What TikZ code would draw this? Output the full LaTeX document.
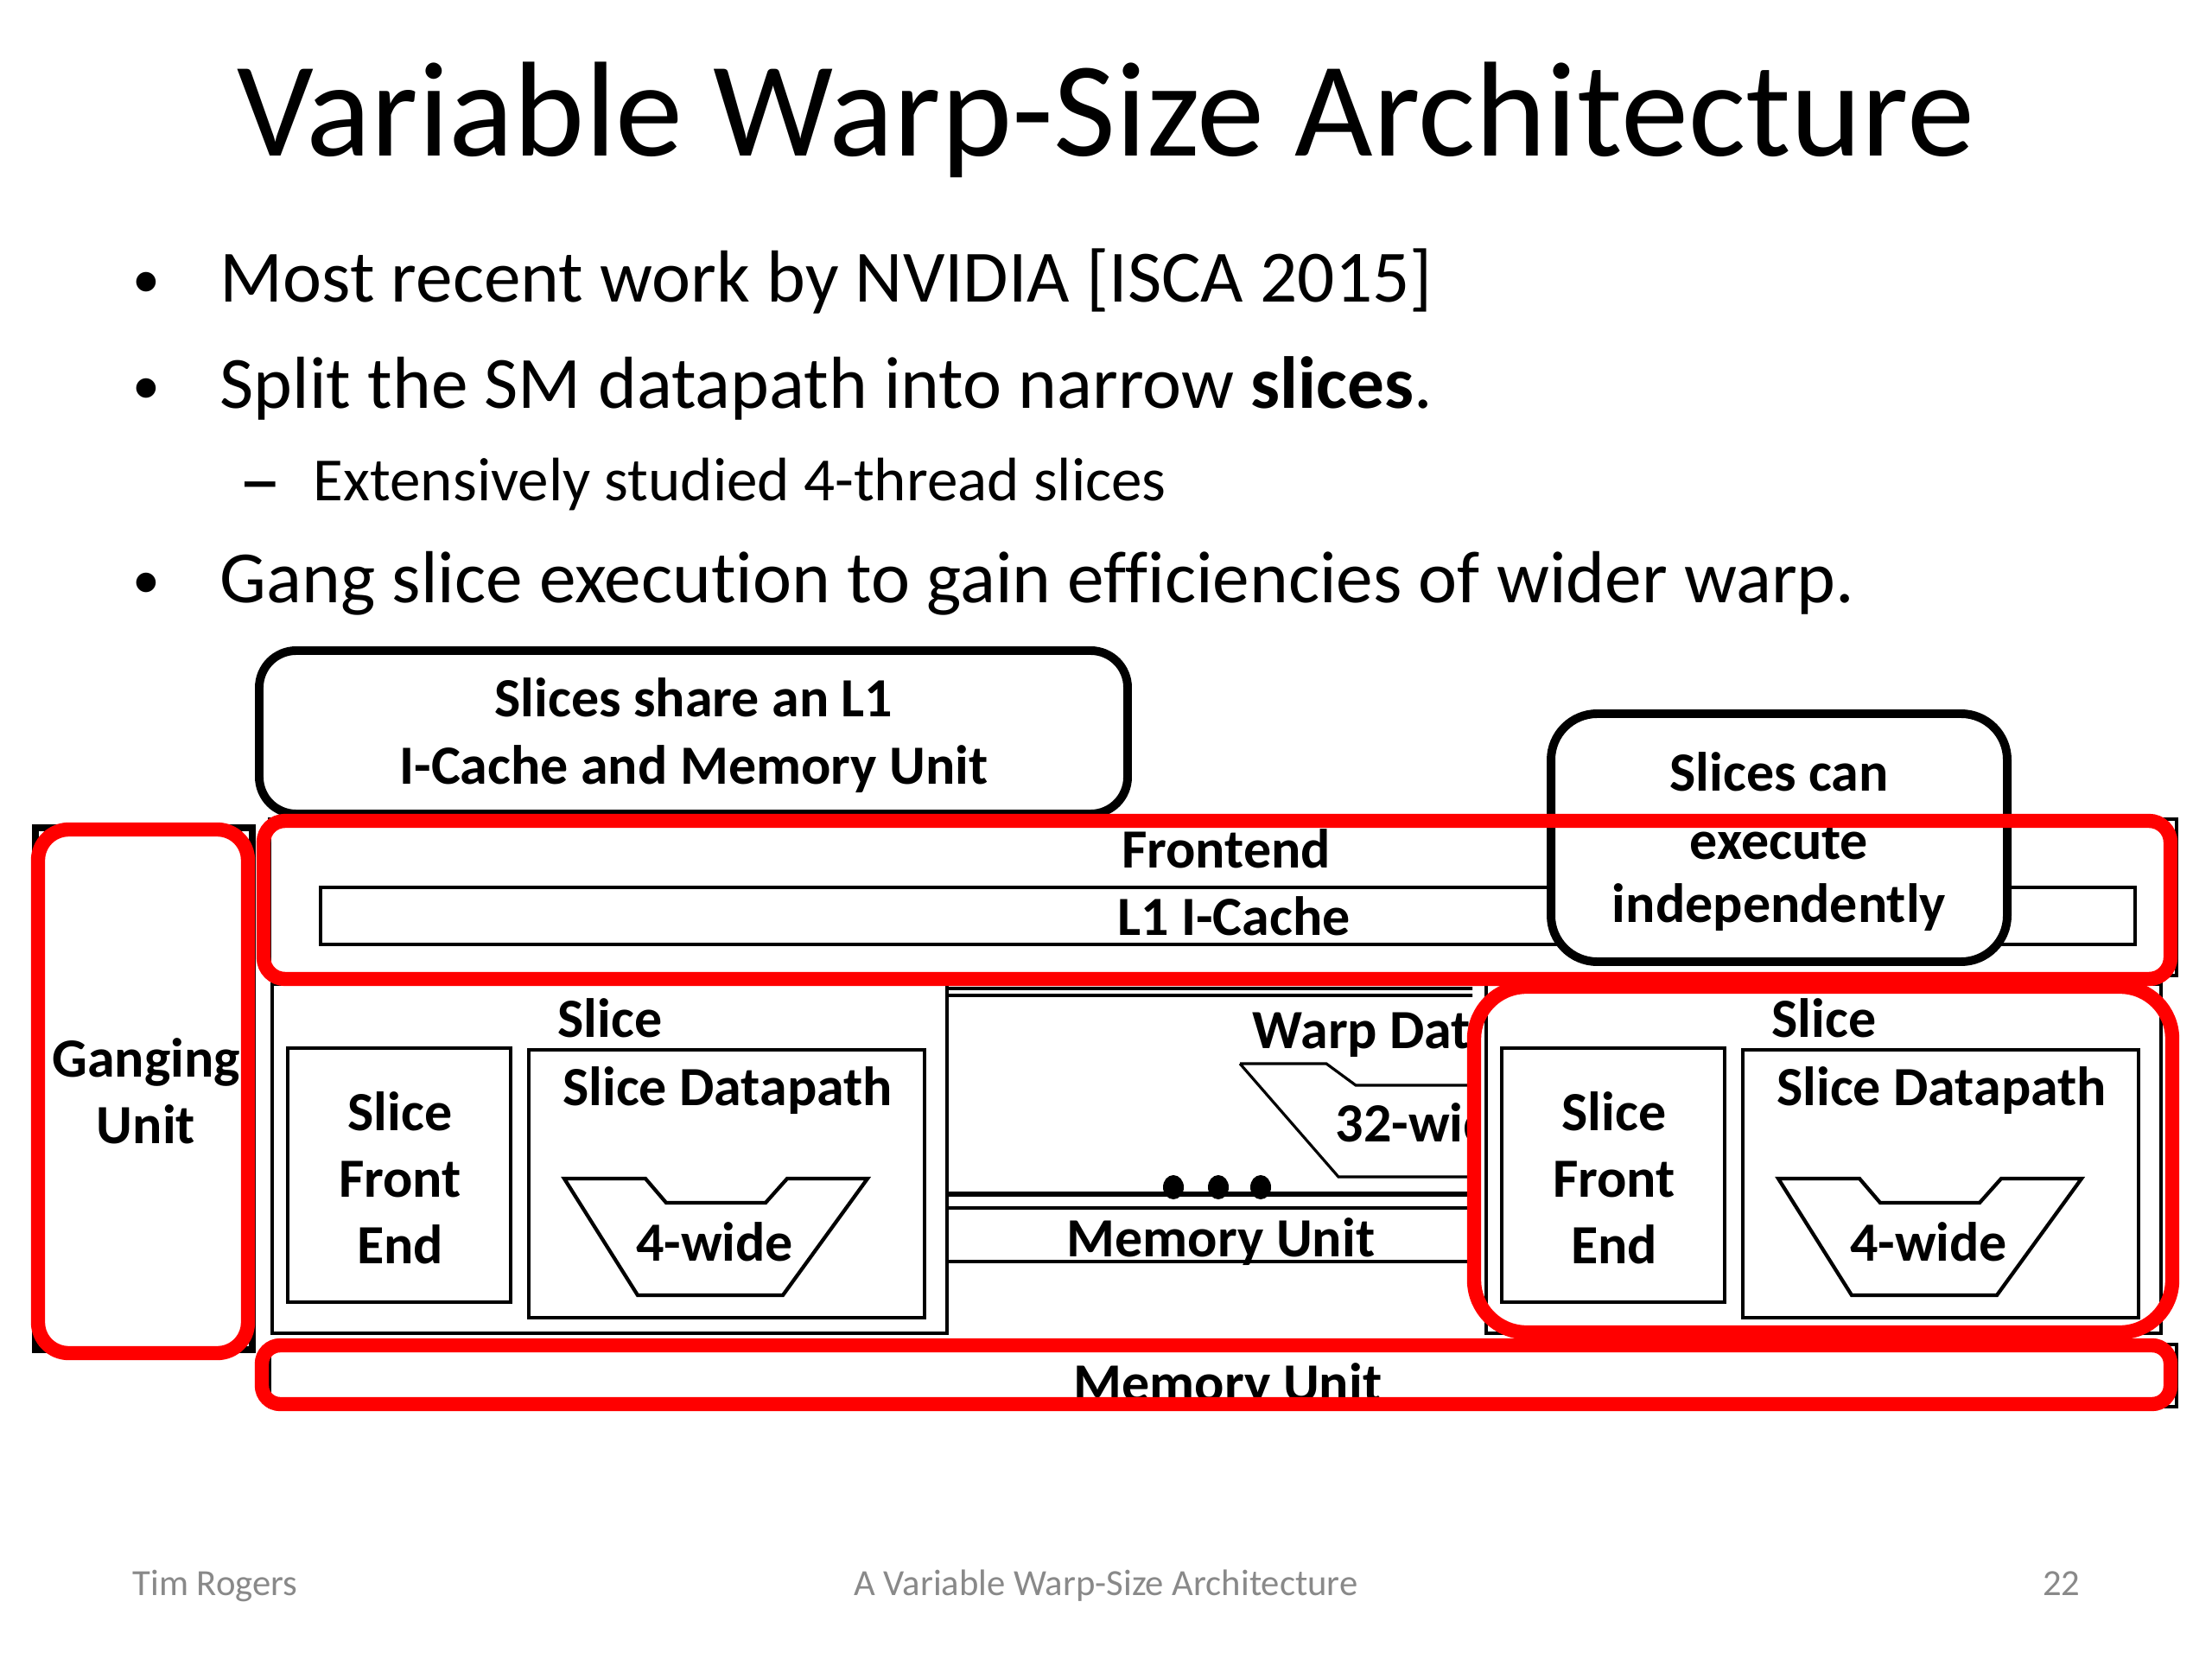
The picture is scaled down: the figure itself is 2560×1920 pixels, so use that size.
\documentclass[tikz,border=0pt]{standalone}
\usepackage{fontspec}
\setmainfont{Carlito}[Ligatures=NoCommon]
\definecolor{footgray}{RGB}{137,137,137}
\definecolor{hlred}{RGB}{255,0,0}
\begin{document}
\begin{tikzpicture}[x=0.28125pt,y=-0.28125pt,
  blk/.style={draw=black,line width=0.9pt},
  callout/.style={draw=black,line width=2.8pt,fill=white,rounded corners=12pt},
  hl/.style={draw=hlred,line width=4.6pt},
  lbl/.style={font=\bfseries\fontsize{18}{20}\selectfont,inner sep=0pt,anchor=base},
  bul/.style={font=\fontsize{24}{28}\selectfont,inner sep=0pt,anchor=base west},
  dot/.style={font=\fontsize{18}{20}\selectfont,inner sep=0pt,anchor=base},
  foot/.style={font=\fontsize{12}{14}\selectfont,text=footgray,inner sep=0pt}]
\useasboundingbox[fill=white] (0,0) rectangle (2560,1920);

% title and bullets
\node[font=\fontsize{44}{50}\selectfont,inner sep=0pt,anchor=base] (title) at (1280,181) {Variable Warp-Size Architecture};
\node[dot] (b1dot) at (169,345) {•};
\node[bul] (b1) at (254,350) {Most recent work by NVIDIA [ISCA 2015]};
\node[dot] (b2dot) at (169,468) {•};
\node[bul] (b2) at (254,473) {Split the SM datapath into narrow \textbf{slices}.};
\node[font=\fontsize{28}{32}\selectfont,inner sep=0pt,anchor=base] (s1dash) at (301,589) {–};
\node[bul,font=\fontsize{20}{24}\selectfont] (s1) at (362,580) {Extensively studied 4-thread slices};
\node[dot] (b3dot) at (169,693) {•};
\node[bul] (b3) at (254,698) {Gang slice execution to gain efficiencies of wider warp.};

% ---------- base diagram ----------
% ganging unit
\draw[blk,line width=2pt] (41,958) rectangle (292,1562);
\node[lbl] (gang1) at (169,1246) {Ganging};
\node[lbl] (gang2) at (169,1323) {Unit};
% frontend
\draw[blk] (312,948) rectangle (2519,1129);
\draw[blk] (371,1027) rectangle (2471,1093);
\node[lbl] (frontend) at (1419,1004) {Frontend};
\node[lbl] (l1icache) at (1428,1082) {L1 I-Cache};
% bottom memory unit
\draw[blk] (312,1556) rectangle (2519,1628);
\node[lbl] (memunit) at (1421,1622) {Memory Unit};

\begin{scope}[shift={(0,-6)}]
% warp datapath (partly hidden)
\begin{scope}
\clip (1096,1140) rectangle (1704,1560);
\draw[blk] (1096,1150) -- (1800,1150);
\draw[blk] (1096,1158) -- (1800,1158);
\draw[blk,line width=1.6pt] (1096,1388) -- (1800,1388);
\draw[blk] (1096,1404) rectangle (1800,1466);
\draw[blk] (1435,1237) -- (1535,1237) -- (1569,1262) -- (1800,1262)
           (1435,1237) -- (1549,1368) -- (1800,1368);
\node[lbl,anchor=base west] (warpdp) at (1449,1219) {Warp Datapath};
\node[lbl,anchor=base west] (wide32) at (1545,1327) {32-wide};
\node[lbl] (memunit2) at (1413,1460) {Memory Unit};
\end{scope}
\fill (1358,1380) ellipse (12 and 14);
\fill (1410,1380) ellipse (12 and 14);
\fill (1459,1380) ellipse (12 and 14);
\coordinate (dots) at (1410,1380);

% left slice
\draw[blk,fill=white] (315,1145) rectangle (1096,1549);
\node[lbl] (slice1) at (706,1206) {Slice};
\draw[blk] (333,1219) rectangle (591,1513);
\node[lbl] (sfe1a) at (463,1314) {Slice};
\node[lbl] (sfe1b) at (463,1391) {Front};
\node[lbl] (sfe1c) at (463,1468) {End};
\draw[blk] (612,1221) rectangle (1070,1531);
\node[lbl] (sdp1) at (842,1285) {Slice Datapath};
\draw[blk,line width=1.2pt] (653,1370) -- (747,1370) -- (771,1398) -- (886,1398) -- (911,1370) -- (1004,1370) -- (906,1505) -- (738,1505) -- cycle;
\node[lbl] (w4a) at (827,1465) {4-wide};

% right slice
\begin{scope}[shift={(1405,0)}]
\draw[blk,fill=white] (315,1145) rectangle (1096,1549);
\node[lbl] (slice2) at (706,1206) {Slice};
\draw[blk] (333,1219) rectangle (591,1513);
\node[lbl] (sfe2a) at (463,1314) {Slice};
\node[lbl] (sfe2b) at (463,1391) {Front};
\node[lbl] (sfe2c) at (463,1468) {End};
\draw[blk] (612,1221) rectangle (1070,1531);
\node[lbl] (sdp2) at (842,1285) {Slice Datapath};
\draw[blk,line width=1.2pt] (653,1370) -- (747,1370) -- (771,1398) -- (886,1398) -- (911,1370) -- (1004,1370) -- (906,1505) -- (738,1505) -- cycle;
\node[lbl] (w4b) at (827,1465) {4-wide};
\end{scope}
\end{scope}

% ---------- callouts ----------
\draw[callout] (300,753) rectangle (1305,942);
\node[lbl] (c1a) at (803,830) {Slices share an L1};
\node[lbl] (c1b) at (803,907) {I-Cache and Memory Unit};
\draw[callout,rounded corners=15pt] (1795,826) rectangle (2323,1113);
\node[lbl] (c2a) at (2059,915) {Slices can};
\node[lbl] (c2b) at (2059,994) {execute};
\node[lbl] (c2c) at (2059,1067) {independently};

% ---------- red highlights ----------
\draw[hl,rounded corners=10pt] (44,960) rectangle (287,1566);
\draw[hl,rounded corners=7pt] (305,950) rectangle (2512,1133);
\draw[hl,rounded corners=17pt] (1706,1142) rectangle (2514,1542);
\draw[hl,rounded corners=6pt] (303,1557) rectangle (2512,1625);

% footer
\node[foot,anchor=base west] (fl) at (153,1846) {Tim Rogers};
\node[foot,anchor=base] (fc) at (1280,1846) {A Variable Warp-Size Architecture};
\node[foot,anchor=base east] (fr) at (2408,1846) {22};
\end{tikzpicture}
\end{document}
